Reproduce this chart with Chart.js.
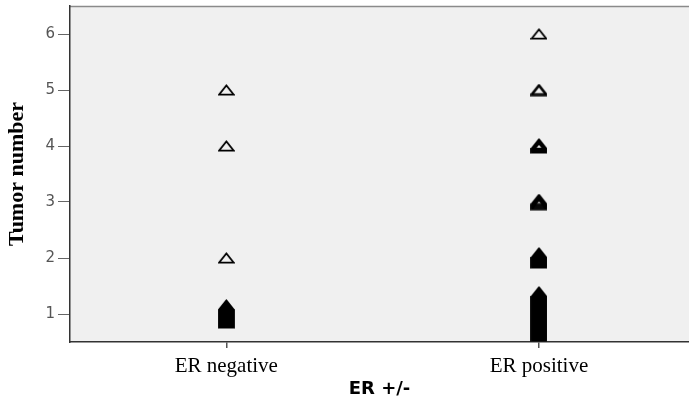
<!DOCTYPE html>
<html>
<head>
<meta charset="utf-8">
<script src="https://cdn.jsdelivr.net/npm/chart.js@4.4.1/dist/chart.umd.min.js"></script>
<style>
  html, body { margin: 0; padding: 0; background: #ffffff; overflow: hidden; }
  canvas { display: block; }
</style>
</head>
<body>
<canvas id="c" width="689" height="398"></canvas>
<script>
// Groups on the horizontal axis
const categories = ['ER negative', 'ER positive'];
// Possible tumor counts per patient
const tumorNumbers = [1, 2, 3, 4, 5, 6];
// Number of patients at each tumor number, per group
const erNegativeCounts = [19, 1, 0, 1, 1, 0];
const erPositiveCounts = [45, 11, 6, 5, 2, 1];
const groupCounts = [erNegativeCounts, erPositiveCounts];

// One point per patient
const cases = [];
groupCounts.forEach((counts, g) => {
  counts.forEach((n, k) => {
    for (let i = 0; i < n; i++) cases.push({ x: g, y: tumorNumbers[k], slot: i, of: n });
  });
});

// Open triangle marker
function makeTriangle() {
  const c = document.createElement('canvas');
  c.width = 17; c.height = 12;
  const ctx = c.getContext('2d');
  ctx.strokeStyle = '#000';
  ctx.lineWidth = 1.7;
  ctx.lineJoin = 'miter';
  ctx.beginPath();
  ctx.moveTo(1.2, 10.6);
  ctx.lineTo(8.5, 1.4);
  ctx.lineTo(15.8, 10.6);
  ctx.closePath();
  ctx.stroke();
  return c;
}
const tri = makeTriangle();

// Plot frame: grey panel and a thin top rule
const panel = {
  id: 'panel',
  beforeDraw(chart) {
    const { ctx, chartArea: a } = chart;
    ctx.save();
    ctx.fillStyle = '#f0f0f0';
    ctx.fillRect(a.left, a.top, a.right - a.left, a.bottom - a.top);
    ctx.strokeStyle = '#8a8a8a';
    ctx.lineWidth = 1.5;
    ctx.beginPath();
    ctx.moveTo(a.left, a.top + 0.5);
    ctx.lineTo(a.right, a.top + 0.5);
    ctx.stroke();
    ctx.restore();
  }
};

// Cases sharing the same value are stacked 1px apart around it
const stacker = {
  id: 'stacker',
  afterDatasetsUpdate(chart) {
    const meta = chart.getDatasetMeta(0);
    meta.data.forEach((el, i) => {
      const d = cases[i];
      el.y += (d.slot - (d.of - 1) / 2) * 1.0;
    });
  }
};

new Chart(document.getElementById('c'), {
  type: 'scatter',
  data: {
    datasets: [{
      data: cases,
      pointStyle: tri,
      pointRadius: 6,
      backgroundColor: 'rgba(0,0,0,0)',
      borderColor: '#000'
    }]
  },
  options: {
    responsive: false,
    animation: false,
    events: [],
    layout: { autoPadding: false, padding: { top: 6, right: 0, bottom: 0, left: 0 } },
    plugins: { legend: { display: false }, tooltip: { enabled: false } },
    scales: {
      x: {
        type: 'linear',
        min: -0.5,
        max: 1.48,
        afterBuildTicks(scale) {
          scale.ticks = categories.map((_, i) => ({ value: i }));
        },
        afterFit(scale) {
          scale.height = 56;
          scale.paddingLeft = 0;
          scale.paddingRight = 0;
        },
        ticks: {
          callback: (v) => categories[v],
          color: '#000',
          font: { family: '"Liberation Serif", "Times New Roman", serif', size: 21 },
          padding: 6,
          maxRotation: 0
        },
        grid: { display: true, drawOnChartArea: false, drawTicks: true, tickLength: 6, color: '#555', lineWidth: 1.5 },
        border: { display: true, color: '#333', width: 1.5 },
        title: {
          display: true,
          text: 'ER +/-',
          color: '#000',
          font: { family: '"DejaVu Sans", Verdana, sans-serif', size: 18, weight: 'bold' },
          padding: { top: 0, bottom: -2 }
        }
      },
      y: {
        min: 0.5,
        max: 6.5,
        afterBuildTicks(scale) {
          scale.ticks = tumorNumbers.map(v => ({ value: v }));
        },
        afterFit(scale) {
          scale.width = 70;
          scale.paddingTop = 0;
          scale.paddingBottom = 0;
        },
        ticks: {
          color: '#555',
          font: { family: '"DejaVu Sans", Verdana, sans-serif', size: 15 },
          padding: 3
        },
        grid: { display: true, drawOnChartArea: false, drawTicks: true, tickLength: 12, color: '#666', lineWidth: 1 },
        border: { display: true, color: '#333', width: 1.5 },
        title: {
          display: true,
          text: 'Tumor number',
          color: '#000',
          font: { family: '"Liberation Serif", "Times New Roman", serif', size: 22, weight: 'bold' },
          padding: { top: 4, bottom: 0 }
        }
      }
    }
  },
  plugins: [panel, stacker]
});
</script>
</body>
</html>
